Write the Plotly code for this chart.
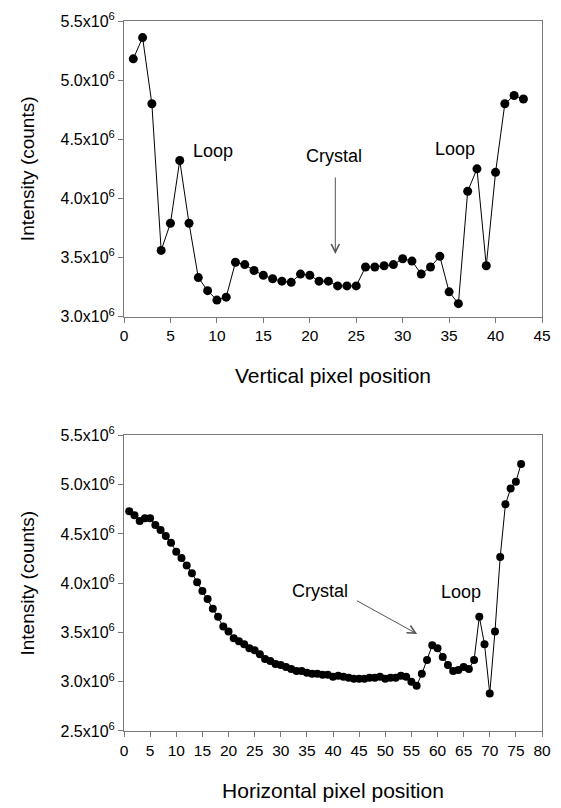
import plotly.graph_objects as go

# Top panel: vertical profile
vert_x = list(range(1, 44))
vert_y = [5.18, 5.36, 4.80, 3.56, 3.79, 4.32, 3.79, 3.33, 3.22, 3.14,
          3.165, 3.46, 3.44, 3.39, 3.35, 3.32, 3.30, 3.29, 3.36, 3.35,
          3.30, 3.30, 3.26, 3.26, 3.26, 3.42, 3.42, 3.43, 3.44, 3.49,
          3.47, 3.36, 3.42, 3.51, 3.21, 3.11, 4.06, 4.25, 3.43, 4.22,
          4.80, 4.87, 4.84]

# Bottom panel: horizontal profile
horz_x = list(range(1, 77))
horz_y = [4.73, 4.69, 4.63, 4.66, 4.66, 4.59, 4.54, 4.48, 4.41, 4.32,
          4.255, 4.18, 4.10, 4.01, 3.92, 3.84, 3.74, 3.66, 3.56, 3.51,
          3.44, 3.41, 3.38, 3.34, 3.32, 3.28, 3.23, 3.21, 3.18, 3.17,
          3.15, 3.13, 3.11, 3.11, 3.09, 3.08, 3.08, 3.07, 3.07, 3.05,
          3.06, 3.05, 3.04, 3.03, 3.03, 3.03, 3.04, 3.04, 3.05, 3.03,
          3.04, 3.04, 3.06, 3.05, 3.00, 2.96, 3.08, 3.22, 3.37, 3.34,
          3.25, 3.17, 3.11, 3.12, 3.15, 3.13, 3.22, 3.66, 3.38, 2.88,
          3.51, 4.265, 4.80, 4.96, 5.03, 5.21]

scale = 1e6
vert_y = [v * scale for v in vert_y]
horz_y = [v * scale for v in horz_y]

top_yticks = [3.0, 3.5, 4.0, 4.5, 5.0, 5.5]
bot_yticks = [2.5, 3.0, 3.5, 4.0, 4.5, 5.0, 5.5]
top_xticks = list(range(0, 46, 5))
bot_xticks = list(range(0, 81, 5))

def ytext(v):
    return f"{v:.1f}x10<sup>6</sup>"

FONT = "Liberation Sans, Arial, sans-serif"
AX = "#7a7a7a"

fig = go.Figure()
fig.add_trace(go.Scatter(x=vert_x, y=vert_y, mode="lines+markers",
                         line=dict(color="black", width=1),
                         marker=dict(color="black", size=9),
                         xaxis="x", yaxis="y", showlegend=False))
fig.add_trace(go.Scatter(x=horz_x, y=horz_y, mode="lines+markers",
                         line=dict(color="black", width=1),
                         marker=dict(color="black", size=8),
                         xaxis="x2", yaxis="y2", showlegend=False))

xaxis_common = dict(showgrid=False, zeroline=False, showline=True, linecolor=AX,
                    linewidth=1, mirror=True, ticks="outside", ticklen=5,
                    tickcolor=AX, tickfont=dict(size=15.5, color="black", family=FONT))
yaxis_common = dict(xaxis_common, tickfont=dict(size=16, color="black", family=FONT))

fig.update_layout(
    width=561, height=808,
    margin=dict(l=124, r=10, t=16, b=74),
    paper_bgcolor="white", plot_bgcolor="white",
    font=dict(family=FONT, color="black"),
    xaxis=dict(xaxis_common, domain=[0, 1], range=[0, 45], tickvals=top_xticks,
               anchor="y",
               title=dict(text="Vertical pixel position", font=dict(size=21), standoff=25)),
    yaxis=dict(yaxis_common, domain=[0.5836, 1.0], range=[3.0e6, 5.5e6],
               tickvals=[v * scale for v in top_yticks],
               ticktext=[ytext(v) for v in top_yticks], anchor="x",
               title=dict(text="Intensity (counts)", font=dict(size=19), standoff=20)),
    xaxis2=dict(xaxis_common, domain=[0, 1], range=[0, 80], tickvals=bot_xticks,
                anchor="y2",
                title=dict(text="Horizontal pixel position", font=dict(size=21), standoff=25)),
    yaxis2=dict(yaxis_common, domain=[0, 0.4164], range=[2.5e6, 5.5e6],
                tickvals=[v * scale for v in bot_yticks],
                ticktext=[ytext(v) for v in bot_yticks], anchor="x2",
                title=dict(text="Intensity (counts)", font=dict(size=19), standoff=20)),
)

ann_font = dict(size=18, color="black", family=FONT)
annotations = [
    dict(x=9.6, y=4.40e6, xref="x", yref="y", text="Loop", showarrow=False, font=ann_font),
    dict(x=35.6, y=4.42e6, xref="x", yref="y", text="Loop", showarrow=False, font=ann_font),
    dict(x=22.6, y=4.36e6, xref="x", yref="y", text="Crystal", showarrow=False, font=ann_font),
    dict(x=22.75, y=3.53e6, ax=22.75, ay=4.19e6, xref="x", yref="y", axref="x", ayref="y",
         text="", showarrow=True, arrowhead=5, arrowsize=1.6, arrowwidth=1, arrowcolor="#555"),
    dict(x=37.6, y=3.92e6, xref="x2", yref="y2", text="Crystal", showarrow=False, font=ann_font),
    dict(x=64.5, y=3.91e6, xref="x2", yref="y2", text="Loop", showarrow=False, font=ann_font),
    dict(x=56.1, y=3.485e6, ax=44.3, ay=3.83e6, xref="x2", yref="y2", axref="x2", ayref="y2",
         text="", showarrow=True, arrowhead=5, arrowsize=1.6, arrowwidth=1, arrowcolor="#555"),
]
fig.update_layout(annotations=annotations)

fig.write_html("out.html")
